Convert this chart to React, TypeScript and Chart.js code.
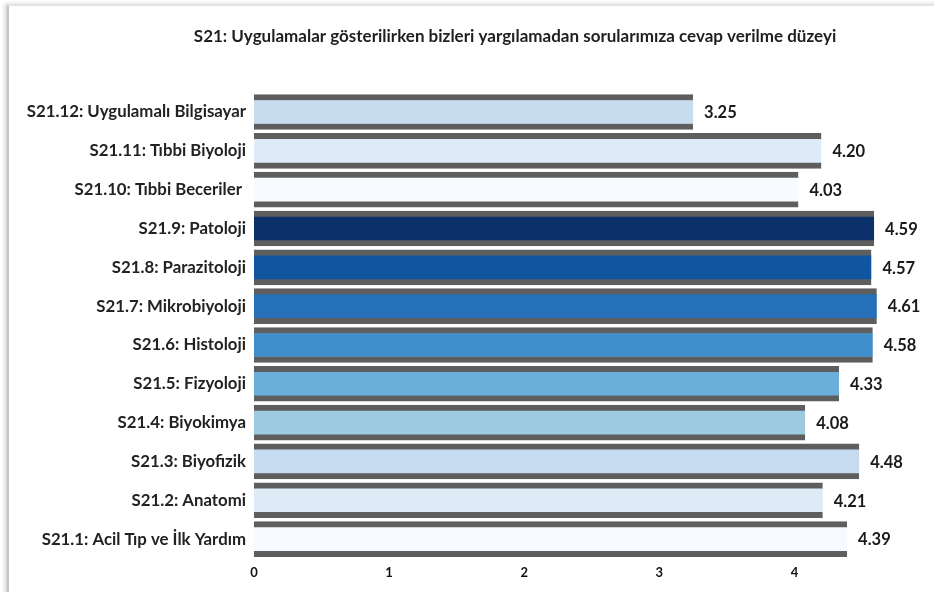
import React, { useEffect, useRef } from "react";
import { Chart, registerables } from "chart.js";

Chart.register(...registerables);

const chartTitle =
  "S21: Uygulamalar gösterilirken bizleri yargılamadan sorularımıza cevap verilme düzeyi";

const categories = [
  "S21.12: Uygulamalı Bilgisayar",
  "S21.11: Tıbbi Biyoloji",
  "S21.10: Tıbbi Beceriler ",
  "S21.9: Patoloji",
  "S21.8: Parazitoloji",
  "S21.7: Mikrobiyoloji",
  "S21.6: Histoloji",
  "S21.5: Fizyoloji",
  "S21.4: Biyokimya",
  "S21.3: Biyofizik",
  "S21.2: Anatomi",
  "S21.1: Acil Tıp ve İlk Yardım",
];

const values = [3.25, 4.2, 4.03, 4.59, 4.57, 4.61, 4.58, 4.33, 4.08, 4.48, 4.21, 4.39];

const barColors = [
  "#c8dcf0",
  "#deebf7",
  "#f7fbff",
  "#0c316a",
  "#0f55a0",
  "#2570b8",
  "#3e8fcb",
  "#6aafdc",
  "#9ecae1",
  "#c6dbef",
  "#deebf7",
  "#f7fbff",
];

const xTicks = [0, 1, 2, 3, 4];

const FONT = "Lato";

const valueLabelPlugin = {
  id: "valueLabels",
  afterDatasetsDraw(chart: any) {
    const ctx = chart.ctx;
    const meta = chart.getDatasetMeta(0);
    ctx.save();
    ctx.font = `bold 16.5px ${FONT}`;
    ctx.fillStyle = "#1a1a1a";
    ctx.textAlign = "left";
    ctx.textBaseline = "middle";
    meta.data.forEach((bar: any, i: number) => {
      ctx.fillText(values[i].toFixed(2), bar.x + 11, bar.y + 1);
    });
    ctx.restore();
  },
};

const titlePlugin = {
  id: "customTitle",
  afterDraw(chart: any) {
    const ctx = chart.ctx;
    ctx.save();
    ctx.font = `bold 17px ${FONT}`;
    ctx.fillStyle = "#1f1f1f";
    ctx.textAlign = "center";
    ctx.textBaseline = "middle";
    ctx.fillText(chartTitle, 515, 37);
    ctx.restore();
  },
};

export default function App() {
  const ref = useRef<HTMLCanvasElement | null>(null);

  useEffect(() => {
    if (!ref.current) return;
    const chart = new Chart(ref.current, {
      type: "bar",
      data: {
        labels: categories,
        datasets: [
          {
            data: values,
            backgroundColor: barColors,
            borderColor: "#5e5e5e",
            borderWidth: { top: 6, bottom: 6, left: 0, right: 0 },
            borderSkipped: false,
            barThickness: 35,
          },
        ],
      },
      options: {
        indexAxis: "y",
        animation: false,
        responsive: false,
        layout: { padding: { top: 92.6, right: 4.5, bottom: 0, left: 0 } },
        plugins: {
          legend: { display: false },
          title: { display: false },
          tooltip: { enabled: false },
        },
        scales: {
          x: {
            type: "linear",
            min: 0,
            max: 5,
            grid: { display: false, drawTicks: false },
            border: { display: false },
            afterBuildTicks: (s: any) => {
              s.ticks = xTicks.map((v) => ({ value: v }));
            },
            afterFit: (s: any) => {
              s.height = 33.5;
            },
            ticks: {
              font: { family: FONT, weight: "bold", size: 13 },
              color: "#111111",
              padding: 7,
            },
          },
          y: {
            grid: { display: false, drawTicks: false },
            border: { display: false },
            afterFit: (s: any) => {
              s.width = 254;
            },
            ticks: {
              font: { family: FONT, weight: "bold", size: 16.8 },
              color: "#222222",
              padding: 8,
            },
          },
        },
      },
      plugins: [valueLabelPlugin, titlePlugin],
    });
    return () => chart.destroy();
  }, []);

  return (
    <div
      style={{
        position: "fixed",
        left: 0,
        top: 0,
        width: 934,
        height: 592,
        background: "#ffffff",
        overflow: "hidden",
      }}
    >
      <div
        style={{
          position: "absolute",
          left: 7,
          top: 5,
          width: 960,
          height: 620,
          borderLeft: "2px solid #c4c4c4",
          borderTop: "1px solid #e4e4e4",
          boxShadow: "-2px -1px 4px rgba(0,0,0,0.18)",
        }}
      />
      <canvas
        ref={ref}
        width={934}
        height={592}
        style={{ position: "absolute", left: 0, top: 0, width: 934, height: 592 }}
      />
    </div>
  );
}
